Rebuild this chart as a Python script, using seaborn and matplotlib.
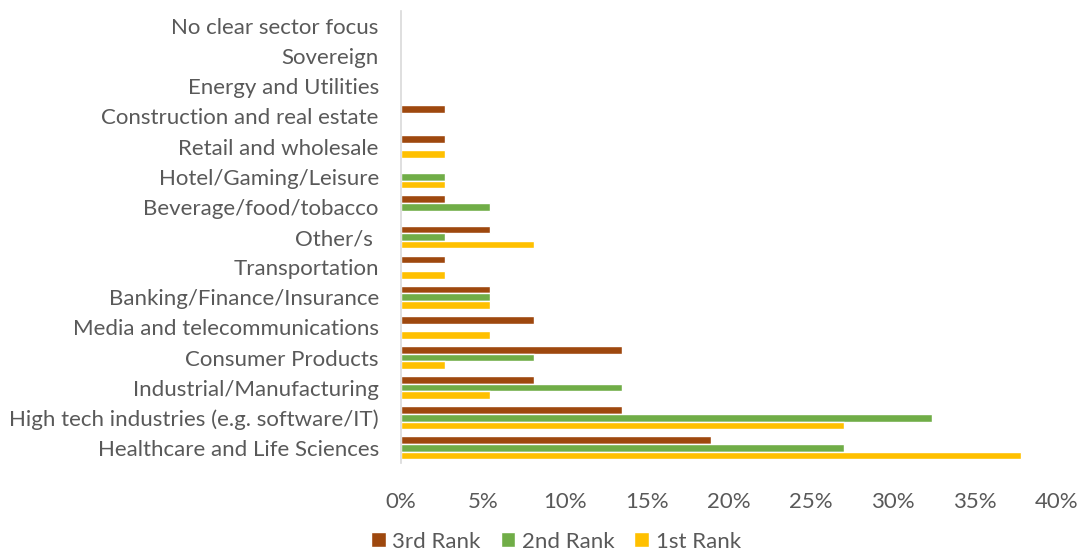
import pandas as pd
import numpy as np
import matplotlib.pyplot as plt
import seaborn as sns
from matplotlib.ticker import PercentFormatter

# sectors, listed top to bottom as in the chart
sectors = ["No clear sector focus", "Sovereign", "Energy and Utilities",
           "Construction and real estate", "Retail and wholesale",
           "Hotel/Gaming/Leisure", "Beverage/food/tobacco", "Other/s ",
           "Transportation", "Banking/Finance/Insurance",
           "Media and telecommunications", "Consumer Products",
           "Industrial/Manufacturing", "High tech industries (e.g. software/IT)",
           "Healthcare and Life Sciences"]
rank3 = [0, 0, 0, 2.7, 2.7, 0, 2.7, 5.4, 2.7, 5.4, 8.1, 13.5, 8.1, 13.5, 18.9]
rank2 = [0, 0, 0, 0, 0, 2.7, 5.4, 2.7, 0, 5.4, 0, 8.1, 13.5, 32.4, 27.0]
rank1 = [0, 0, 0, 0, 2.7, 2.7, 0, 8.1, 2.7, 5.4, 5.4, 2.7, 5.4, 27.0, 37.8]
ranks = ["3rd Rank", "2nd Rank", "1st Rank"]

df = pd.DataFrame({"sector": sectors, "3rd Rank": rank3,
                   "2nd Rank": rank2, "1st Rank": rank1})
df = df.melt(id_vars="sector", var_name="rank", value_name="pct")

sns.set_style("white")
plt.rcParams['font.family'] = ['Lato', 'DejaVu Sans']
txt = '#595959'

fig = plt.figure(figsize=(10.82, 5.56), dpi=100)
ax = fig.add_axes([401 / 1082, 1 - 463 / 556, 656 / 1082, 452 / 556])

sns.barplot(data=df, y="sector", x="pct", hue="rank", hue_order=ranks,
            order=sectors, orient="y", width=0.76, ax=ax,
            palette=["#9E480E", "#70AD47", "#FFC000"], saturation=1)

ax.set_xlim(0, 40)
ax.set_xticks(np.arange(0, 41, 5))
ax.xaxis.set_major_formatter(PercentFormatter(decimals=0))
ax.set_xlabel("")
ax.set_ylabel("")
ax.tick_params(axis='both', length=0, labelsize=16, colors=txt)
ax.tick_params(axis='x', pad=21)
ax.tick_params(axis='y', pad=16)
for s in ['top', 'right', 'bottom']:
    ax.spines[s].set_visible(False)
ax.spines['left'].set_color('#D9D9D9')
ax.spines['left'].set_linewidth(1.2)

ax.legend(ncol=3, frameon=False, fontsize=16, handlelength=0.65,
          handleheight=0.65, columnspacing=0.9, handletextpad=0.3,
          labelcolor=txt, loc='lower center',
          bbox_to_anchor=(556 / 1082, -0.028), bbox_transform=fig.transFigure)

plt.savefig('out.png', dpi=100)
